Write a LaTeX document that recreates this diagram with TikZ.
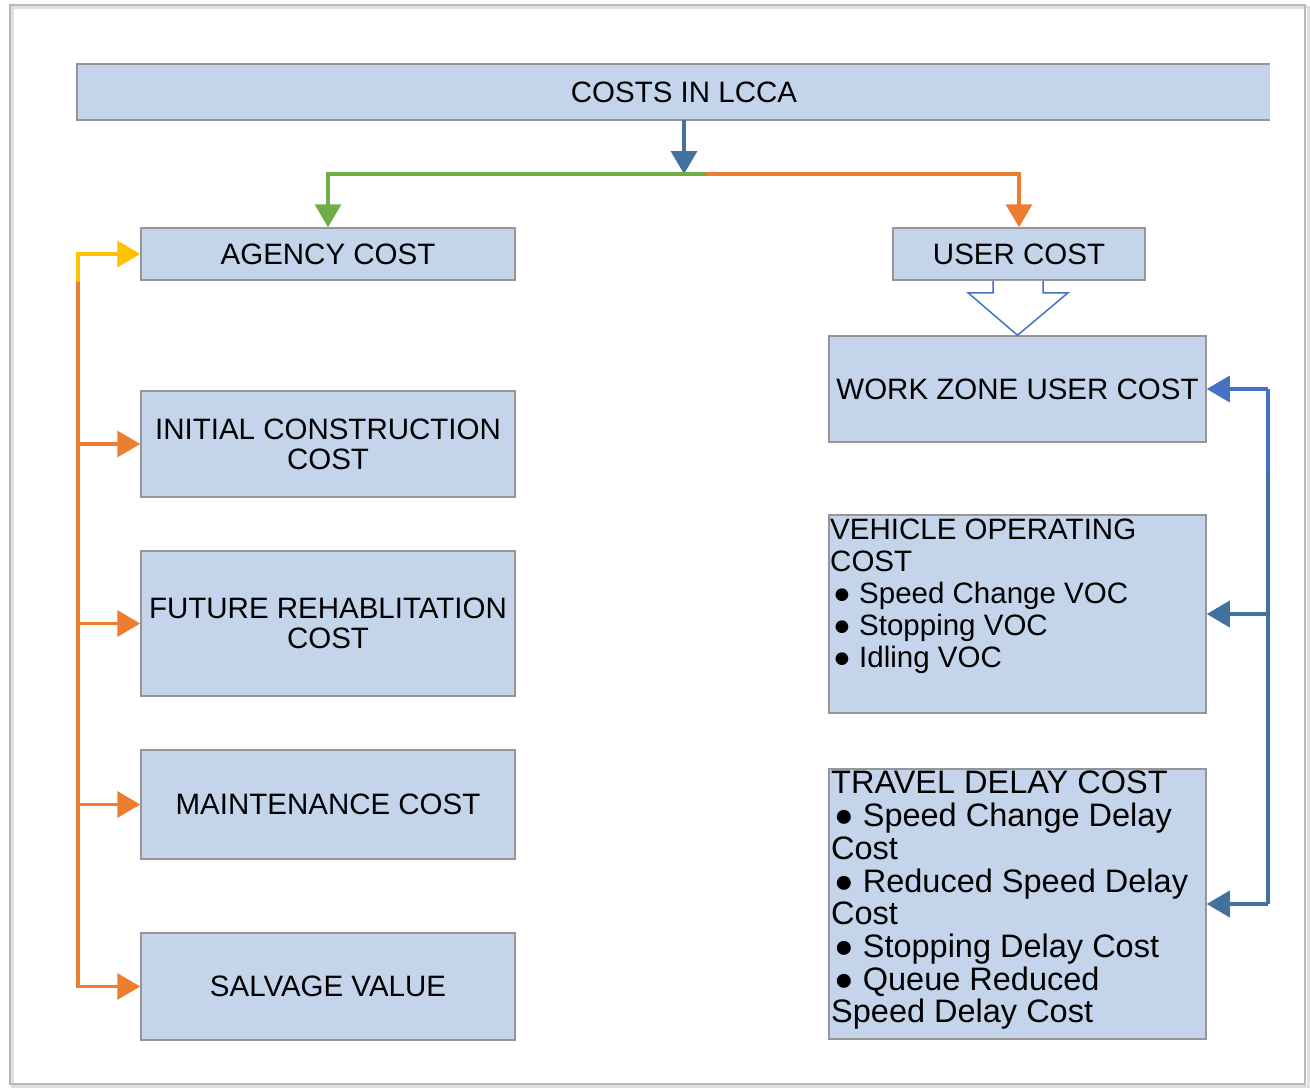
\documentclass[tikz,border=0pt]{standalone}
\usepackage{fontspec}
\setmainfont{Liberation Sans}
\usetikzlibrary{arrows.meta,calc}
\definecolor{boxfill}{RGB}{196,213,235}
\definecolor{boxline}{RGB}{150,150,150}
\definecolor{gline}{RGB}{112,173,71}
\definecolor{oline}{RGB}{237,125,49}
\definecolor{yline}{RGB}{255,192,0}
\definecolor{sline}{RGB}{65,113,156}
\definecolor{bline}{RGB}{68,114,196}
\tikzset{
  costbox/.style={draw=boxline, fill=boxfill, line width=1.5pt, inner sep=0pt,
    align=center, font=\fontsize{29.5}{30}\selectfont},
  listtext/.style={inner sep=0pt, align=left},
  conn/.style={line width=3.5pt, -{Triangle[width=26pt,length=23pt]}},
  plain/.style={line width=3.5pt},
}
\begin{document}
\begin{tikzpicture}[x=1pt,y=-1pt]
\useasboundingbox (0,0) rectangle (1310,1088);
% page frame
\fill[white] (0,0) rectangle (1310,1088);
\draw[gray!25, line width=3pt] (12,7) rectangle (1308,1086);
\draw[gray!55, line width=1.2pt] (10,5) rectangle (1305,1084);

% title bar (open on the right)
\node[fill=boxfill, inner sep=0pt, minimum width=1193pt, minimum height=56pt] (title) at (673.5,92) {};
\draw[boxline, line width=2pt] (title.north east) -- (title.north west) -- (title.south west) -- (title.south east);
\node[inner sep=0pt, font=\fontsize{29.5}{30}\selectfont] (titletxt) at (684,92) {COSTS IN LCCA};

% agency side
\node[costbox, minimum width=374pt, minimum height=52pt] (agency) at (328,254) {AGENCY COST};
\node[costbox, minimum width=374pt, minimum height=106pt] (init) at (328,444) {INITIAL CONSTRUCTION\\COST};
\node[costbox, minimum width=374pt, minimum height=145pt] (future) at (328,623.5) {FUTURE REHABLITATION\\COST};
\node[costbox, minimum width=374pt, minimum height=109pt] (maint) at (328,804.5) {MAINTENANCE COST};
\node[costbox, minimum width=374pt, minimum height=107pt] (salvage) at (328,986.5) {SALVAGE VALUE};

% user side
\node[costbox, minimum width=252pt, minimum height=52pt] (user) at (1019,254) {USER COST};
\node[costbox, minimum width=377pt, minimum height=106pt] (work) at (1017.5,389) {WORK ZONE USER COST};
\node[costbox, minimum width=377pt, minimum height=198pt] (voc) at (1017.5,614) {};
\node[costbox, minimum width=377pt, minimum height=270pt] (travel) at (1017.5,904) {};

\node[listtext, anchor=north west, font=\fontsize{29.5}{32}\selectfont] (voctxt) at (830,519)
  {VEHICLE OPERATING\\COST\\\hspace*{3pt}● Speed Change VOC\\\hspace*{3pt}● Stopping VOC\\\hspace*{3pt}● Idling VOC};
\node[listtext, anchor=north west, font=\fontsize{32.5}{32.7}\selectfont] (traveltxt) at (831,771)
  {TRAVEL DELAY COST\\\hspace*{3pt}● Speed Change Delay\\Cost\\\hspace*{3pt}● Reduced Speed Delay\\Cost\\\hspace*{3pt}● Stopping Delay Cost\\\hspace*{3pt}● Queue Reduced\\Speed Delay Cost};

% split from the title
\coordinate (split) at (684,174);
\coordinate (fork) at (706,174);
\draw[conn, sline] (title.south -| split) -- (split);
\draw[conn, gline] (fork) -| (agency.north);
\draw[conn, oline] (fork) -| (user.north);

% hollow block arrow from user cost to work zone user cost
\draw[bline, line width=1.5pt, fill=white]
  ($(user.south)+(-26,0)$) -- ++(0,12) -- ++(-25,0) -- (work.north)
  -- ($(user.south)+(49,12)$) -- ++(-25,0) -- ++(0,-12);

% left trunk
\coordinate (ljoin) at (78,282);
\draw[conn, yline] (ljoin) |- (agency.west);
\draw[conn, oline] (ljoin) |- (salvage.west);
\draw[conn, oline] (ljoin |- init.west) -- (init.west);
\draw[conn, oline] (ljoin |- future.west) -- (future.west);
\draw[conn, oline] (ljoin |- maint.west) -- (maint.west);

% right trunk
\coordinate (rtop) at (1268,389);
\coordinate (rbot) at (1268,904);
\draw[plain, sline] (rbot) -- (1268,470);
\draw[plain, bline] (1268,472) -- (rtop);
\draw[conn, bline] (rtop) -- (work.east);
\draw[conn, sline] (rtop |- voc.east) -- (voc.east);
\draw[conn, sline] (rbot) -- (travel.east);
\end{tikzpicture}
\end{document}
